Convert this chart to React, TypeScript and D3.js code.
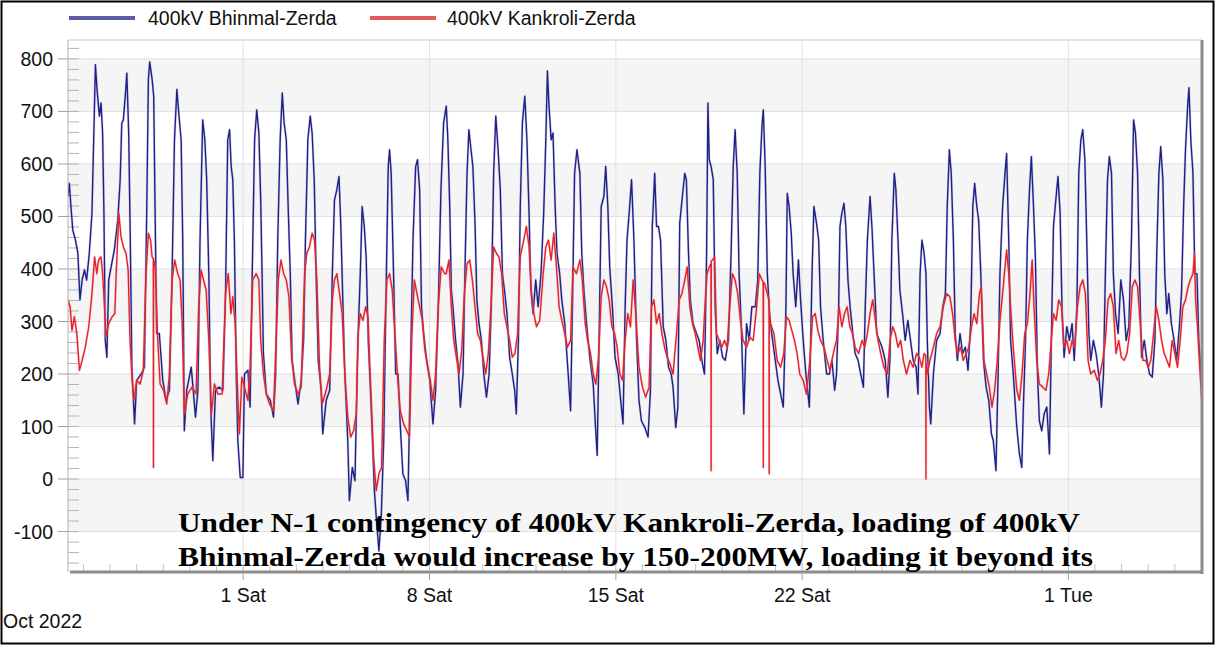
import { useMemo } from "react";
import * as d3 from "d3";

// offsets below are days since 24 Sep 2022 00:00
const START = new Date(2022, 8, 24);
const DAY = 86400000;

const seriesNames = ["400kV Bhinmal-Zerda", "400kV Kankroli-Zerda"];
const seriesColors = ["#20208a", "#e62228"];
const legendColors = ["#5c5ca6", "#e05c5c"];

const yTicks = [-100, 0, 100, 200, 300, 400, 500, 600, 700, 800];
const xTickDates = ["2022-10-01", "2022-10-08", "2022-10-15", "2022-10-22", "2022-11-01"];
const xTickLabels = ["1 Sat", "8 Sat", "15 Sat", "22 Sat", "1 Tue"];
const monthLabel = "Oct 2022";
const noteLines = [
  "Under N-1 contingency of 400kV Kankroli-Zerda, loading of 400kV",
  "Bhinmal-Zerda would increase by 150-200MW, loading it beyond its",
];

const bhinmal: [number, number][] = [
  [0.42,538],[0.47,563],[0.53,519],[0.6,474],[0.7,455],[0.79,430],[0.87,341],[0.95,379],[1.04,398],[1.12,379],[1.22,430],[1.32,506],[1.4,678],[1.45,789],[1.51,742],[1.6,691],[1.66,716],[1.72,659],[1.77,506],[1.82,264],[1.88,232],[1.95,379],[2.04,404],[2.16,436],[2.29,493],[2.38,570],[2.44,678],[2.5,684],[2.58,735],[2.63,773],[2.7,659],[2.76,455],[2.82,213],[2.92,105],[3.0,188],[3.17,200],[3.29,213],[3.38,519],[3.44,761],[3.49,794],[3.58,761],[3.64,729],[3.69,519],[3.75,277],[3.85,277],[3.98,188],[4.11,150],[4.23,169],[4.33,391],[4.42,646],[4.51,742],[4.58,697],[4.67,646],[4.73,455],[4.79,92],[4.88,169],[5.05,213],[5.21,118],[5.3,169],[5.38,455],[5.48,684],[5.56,646],[5.63,570],[5.71,391],[5.78,137],[5.86,35],[5.96,169],[6.09,175],[6.24,169],[6.34,360],[6.42,646],[6.49,665],[6.55,595],[6.61,570],[6.67,455],[6.74,200],[6.8,73],[6.89,3],[6.99,3],[7.05,200],[7.18,207],[7.26,137],[7.34,391],[7.43,646],[7.51,703],[7.59,659],[7.66,531],[7.71,391],[7.76,239],
  [7.87,162],[8.02,150],[8.14,118],[8.22,200],[8.3,455],[8.39,646],[8.47,735],[8.54,678],[8.62,646],[8.69,519],[8.77,391],[8.84,226],[8.97,175],[9.06,143],[9.18,188],[9.27,264],[9.34,455],[9.43,646],[9.52,691],[9.59,659],[9.67,570],[9.74,391],[9.82,226],[9.93,169],[9.99,86],[10.12,150],[10.25,169],[10.35,391],[10.43,531],[10.52,551],[10.6,576],[10.67,481],[10.75,328],[10.82,200],[10.93,73],[10.99,-41],[11.1,22],[11.2,-3],[11.31,264],[11.4,391],[11.47,519],[11.55,481],[11.62,423],[11.7,264],[11.81,137],[11.93,-22],[12.02,-86],[12.1,-137],[12.19,-67],[12.28,73],[12.38,391],[12.45,595],[12.5,627],[12.56,582],[12.65,391],[12.73,200],[12.82,200],[12.9,105],[13.0,10],[13.1,-3],[13.19,-41],[13.28,200],[13.38,455],[13.48,595],[13.55,608],[13.63,551],[13.7,328],[13.78,277],[13.88,232],[14.01,188],[14.13,105],[14.23,169],[14.33,328],[14.43,551],[14.53,678],[14.63,710],[14.69,646],[14.76,519],[14.82,360],[14.88,328],[14.98,264],
  [15.07,220],[15.16,137],[15.26,200],[15.33,391],[15.41,582],[15.48,665],[15.56,627],[15.63,595],[15.71,487],[15.78,341],[15.86,296],[15.95,264],[16.04,200],[16.14,156],[16.24,200],[16.32,328],[16.41,582],[16.49,691],[16.57,633],[16.66,551],[16.74,391],[16.83,353],[16.91,315],[17.01,232],[17.11,200],[17.2,169],[17.26,124],[17.34,264],[17.41,519],[17.49,678],[17.58,729],[17.66,646],[17.74,506],[17.81,360],[17.89,315],[17.99,379],[18.08,328],[18.19,391],[18.29,506],[18.37,646],[18.43,777],[18.49,710],[18.57,646],[18.64,659],[18.72,519],[18.79,430],[18.89,391],[18.97,341],[19.08,296],[19.21,200],[19.3,130],[19.37,328],[19.45,582],[19.54,627],[19.65,582],[19.72,430],[19.8,360],[19.9,296],[20.02,232],[20.15,181],[20.23,105],[20.3,45],[20.37,264],[20.45,519],[20.55,538],[20.62,595],[20.7,519],[20.77,404],[20.87,328],[20.97,232],[21.09,200],[21.17,156],[21.27,105],[21.35,328],[21.42,455],[21.5,506],[21.59,570],[21.68,455],[21.78,264],
  [21.87,150],[21.96,111],[22.09,98],[22.21,80],[22.3,169],[22.37,481],[22.46,582],[22.53,481],[22.6,481],[22.68,455],[22.78,290],[22.88,264],[22.98,213],[23.08,200],[23.15,175],[23.25,98],[23.33,137],[23.4,487],[23.5,538],[23.59,582],[23.65,570],[23.73,430],[23.8,341],[23.9,296],[24.03,277],[24.13,264],[24.23,226],[24.33,200],[24.41,430],[24.46,716],[24.51,608],[24.58,595],[24.66,570],[24.73,328],[24.81,239],[24.91,264],[25.01,232],[25.11,226],[25.23,264],[25.33,430],[25.41,595],[25.48,665],[25.56,582],[25.63,391],[25.71,296],[25.81,124],[25.91,296],[26.01,264],[26.11,328],[26.24,328],[26.33,379],[26.41,582],[26.49,672],[26.54,703],[26.61,595],[26.69,391],[26.79,302],[26.89,264],[26.99,226],[27.09,188],[27.19,162],[27.29,137],[27.39,328],[27.44,544],[27.51,519],[27.59,468],[27.66,391],[27.76,328],[27.86,417],[27.94,341],[28.04,264],[28.14,200],[28.27,137],[28.37,391],[28.44,519],[28.54,487],[28.62,455],[28.69,328],[28.79,264],[28.92,200],
  [29.02,200],[29.12,226],[29.22,169],[29.29,200],[29.37,328],[29.42,481],[29.49,506],[29.57,525],[29.64,481],[29.72,379],[29.8,328],[29.89,283],[29.99,239],[30.1,226],[30.2,200],[30.3,175],[30.37,328],[30.45,455],[30.55,538],[30.62,481],[30.7,391],[30.8,277],[30.9,264],[31.0,251],[31.12,226],[31.22,156],[31.3,232],[31.37,455],[31.46,582],[31.52,551],[31.6,455],[31.67,360],[31.77,315],[31.87,264],[31.97,302],[32.07,264],[32.17,226],[32.28,213],[32.35,162],[32.43,391],[32.5,455],[32.58,430],[32.65,391],[32.7,264],[32.78,137],[32.83,105],[32.93,200],[33.05,264],[33.18,277],[33.28,328],[33.38,353],[33.45,519],[33.53,627],[33.6,582],[33.68,455],[33.75,277],[33.83,226],[33.93,277],[34.03,239],[34.13,251],[34.23,207],[34.33,296],[34.41,519],[34.48,563],[34.56,519],[34.63,493],[34.71,391],[34.81,226],[34.91,175],[35.01,150],[35.11,86],[35.18,73],[35.28,16],[35.36,200],[35.43,391],[35.53,519],[35.62,582],[35.68,620],[35.76,455],[35.83,264],[35.93,200],[36.06,100],
  [36.16,48],[36.25,22],[36.31,137],[36.39,264],[36.46,455],[36.54,551],[36.61,614],[36.69,519],[36.76,423],[36.84,200],[36.91,111],[37.0,92],[37.09,124],[37.19,137],[37.29,48],[37.36,264],[37.44,481],[37.54,538],[37.61,576],[37.69,506],[37.76,328],[37.84,232],[37.94,290],[38.04,264],[38.14,296],[38.22,226],[38.32,328],[38.39,582],[38.47,646],[38.54,665],[38.62,608],[38.69,455],[38.77,277],[38.84,226],[38.94,264],[39.04,239],[39.14,200],[39.24,137],[39.32,200],[39.39,391],[39.47,570],[39.54,614],[39.62,582],[39.69,391],[39.77,315],[39.87,277],[39.97,379],[40.07,341],[40.17,264],[40.27,290],[40.37,455],[40.45,684],[40.52,659],[40.6,582],[40.67,391],[40.75,232],[40.85,264],[40.95,226],[41.05,200],[41.15,194],[41.25,264],[41.32,430],[41.4,582],[41.47,633],[41.55,570],[41.62,391],[41.7,315],[41.77,353],[41.87,296],[41.97,264],[42.07,226],[42.17,290],[42.25,353],[42.33,519],[42.4,627],[42.48,710],[42.53,745],[42.6,646],[42.68,582],[42.75,391],[42.83,391],[42.9,264],[42.98,200],
];

const kankroli: [number, number][] = [
  [0.42,341],[0.5,328],[0.57,283],[0.66,309],[0.75,277],[0.85,207],[0.95,226],[1.07,251],[1.2,290],[1.32,353],[1.42,423],[1.5,391],[1.57,417],[1.66,423],[1.72,391],[1.79,328],[1.85,271],[1.95,296],[2.08,309],[2.18,315],[2.23,391],[2.33,506],[2.41,462],[2.5,442],[2.6,430],[2.68,398],[2.75,264],[2.83,188],[2.89,150],[3.0,188],[3.13,181],[3.25,207],[3.35,391],[3.44,468],[3.52,455],[3.58,423],[3.625,420],[3.63,22],[3.635,417],[3.7,404],[3.78,277],[3.88,181],[4.01,169],[4.13,143],[4.23,200],[4.33,379],[4.43,417],[4.54,391],[4.63,379],[4.71,296],[4.79,124],[4.92,162],[5.08,175],[5.23,162],[5.33,328],[5.42,398],[5.51,379],[5.61,360],[5.71,264],[5.81,124],[5.92,181],[6.05,162],[6.21,162],[6.34,353],[6.44,391],[6.54,315],[6.61,347],[6.7,296],[6.79,169],[6.86,86],[6.95,194],[7.05,175],[7.18,150],[7.26,213],[7.36,379],[7.49,391],
  [7.59,379],[7.66,264],[7.76,200],[7.87,162],[7.99,143],[8.14,130],[8.24,264],[8.32,379],[8.42,417],[8.52,391],[8.62,379],[8.72,347],[8.82,232],[8.93,181],[9.06,162],[9.18,175],[9.31,391],[9.39,430],[9.49,442],[9.59,468],[9.68,455],[9.77,379],[9.87,213],[9.97,143],[10.12,169],[10.25,200],[10.35,341],[10.43,379],[10.52,391],[10.62,353],[10.72,315],[10.82,200],[10.93,118],[11.04,80],[11.15,92],[11.25,124],[11.32,277],[11.4,315],[11.5,302],[11.6,328],[11.69,309],[11.77,200],[11.9,41],[12.0,-22],[12.1,10],[12.2,22],[12.3,264],[12.4,379],[12.5,391],[12.6,360],[12.7,277],[12.82,181],[12.9,130],[13.03,105],[13.15,92],[13.25,80],[13.33,264],[13.43,379],[13.53,353],[13.63,328],[13.73,302],[13.83,245],[13.93,213],[14.03,188],[14.13,150],[14.23,200],[14.33,328],[14.44,404],[14.57,391],
  [14.63,391],[14.73,417],[14.82,328],[14.91,264],[15.01,232],[15.11,200],[15.21,245],[15.31,353],[15.41,410],[15.51,417],[15.61,379],[15.71,328],[15.81,277],[15.91,264],[16.01,232],[16.11,200],[16.21,239],[16.31,328],[16.41,442],[16.51,430],[16.61,423],[16.71,391],[16.81,315],[16.91,290],[17.01,264],[17.11,232],[17.21,239],[17.31,277],[17.41,423],[17.54,455],[17.64,481],[17.74,442],[17.82,360],[17.92,315],[18.02,290],[18.14,302],[18.27,391],[18.37,442],[18.47,455],[18.57,417],[18.67,468],[18.77,404],[18.87,328],[18.97,302],[19.08,277],[19.18,251],[19.3,264],[19.39,404],[19.52,391],[19.65,417],[19.74,379],[19.85,296],[19.94,264],[20.05,239],[20.15,200],[20.25,181],[20.35,232],[20.45,347],[20.55,379],[20.65,366],[20.75,341],[20.85,290],[20.95,277],[21.05,251],[21.15,200],[21.25,188],[21.35,264],[21.45,315],[21.55,290],[21.65,379],[21.75,315],
  [21.87,213],[22.0,175],[22.12,156],[22.25,175],[22.34,328],[22.43,341],[22.53,296],[22.63,315],[22.73,277],[22.83,251],[22.93,232],[23.03,220],[23.15,200],[23.28,277],[23.38,341],[23.48,353],[23.59,379],[23.68,404],[23.78,328],[23.88,296],[23.98,277],[24.08,251],[24.18,226],[24.28,264],[24.36,341],[24.43,391],[24.51,404],[24.575,410],[24.58,16],[24.585,415],[24.63,417],[24.71,423],[24.78,277],[24.88,264],[24.98,251],[25.08,264],[25.18,251],[25.28,328],[25.38,391],[25.48,379],[25.58,353],[25.68,302],[25.78,264],[25.91,251],[26.03,270],[26.16,264],[26.29,328],[26.39,391],[26.49,379],[26.535,375],[26.54,22],[26.545,375],[26.59,372],[26.69,353],[26.755,340],[26.76,10],[26.765,320],[26.81,296],[26.94,277],[27.06,226],[27.19,213],[27.31,239],[27.41,309],[27.51,302],[27.61,283],[27.71,264],[27.81,239],[27.91,200],[28.04,188],[28.16,162],[28.29,226],[28.39,309],[28.49,315],[28.59,283],[28.69,264],[28.82,251],[28.94,226],
  [29.04,207],[29.17,239],[29.29,264],[29.39,328],[29.49,290],[29.59,315],[29.69,328],[29.79,290],[29.89,277],[29.99,251],[30.12,239],[30.25,264],[30.35,251],[30.45,277],[30.55,315],[30.65,341],[30.75,302],[30.85,264],[30.95,239],[31.07,213],[31.2,200],[31.3,264],[31.4,290],[31.5,277],[31.6,251],[31.7,264],[31.8,226],[31.92,200],[32.05,226],[32.17,213],[32.3,239],[32.4,232],[32.5,213],[32.58,239],[32.645,235],[32.65,0],[32.655,220],[32.7,200],[32.8,226],[32.93,251],[33.05,277],[33.18,290],[33.3,328],[33.43,353],[33.55,347],[33.65,315],[33.75,264],[33.85,239],[33.95,251],[34.05,226],[34.16,239],[34.26,251],[34.36,290],[34.46,315],[34.56,296],[34.66,353],[34.73,366],[34.83,226],[34.93,200],[35.03,175],[35.13,137],[35.23,169],[35.33,226],[35.43,302],[35.53,353],[35.62,404],[35.68,436],[35.76,391],[35.83,328],[35.93,251],[36.06,170],
  [36.16,150],[36.26,200],[36.36,277],[36.46,296],[36.56,353],[36.64,417],[36.71,328],[36.81,226],[36.91,181],[37.04,175],[37.16,169],[37.26,200],[37.36,264],[37.44,315],[37.54,302],[37.64,341],[37.74,328],[37.84,251],[37.94,264],[38.04,239],[38.14,264],[38.24,251],[38.34,328],[38.44,366],[38.54,379],[38.64,353],[38.74,226],[38.84,200],[38.97,207],[39.09,188],[39.19,200],[39.29,226],[39.39,264],[39.49,341],[39.59,353],[39.69,328],[39.79,239],[39.89,264],[39.99,232],[40.1,226],[40.2,239],[40.3,277],[40.4,366],[40.5,379],[40.6,366],[40.7,296],[40.8,226],[40.9,226],[41.0,213],[41.1,226],[41.2,277],[41.3,328],[41.4,302],[41.5,264],[41.6,239],[41.7,226],[41.8,213],[41.9,264],[42.0,239],[42.1,213],[42.2,264],[42.3,328],[42.4,341],[42.5,366],[42.58,379],[42.68,391],[42.74,430],[42.78,341],[42.85,290],[42.95,200],[43.01,150],
];

const W = 1218;
const H = 648;
const plot = { left: 68, right: 1202, top: 40, bottom: 572 };
const xRange = [0.42, 43.02];
const yRange = [-177, 836];
const sans = "'Liberation Sans', Arial, sans-serif";
const labelSize = 19.5;

const toDate = (d: number) => new Date(START.getTime() + d * DAY);

export default function App() {
  const x = useMemo(
    () => d3.scaleTime().domain(xRange.map(toDate)).range([plot.left, plot.right]),
    []
  );
  const y = useMemo(() => d3.scaleLinear().domain(yRange).range([plot.bottom, plot.top]), []);

  const line = d3
    .line<[number, number]>()
    .x((d) => x(toDate(d[0])))
    .y((d) => y(d[1]));

  const parse = d3.timeParse("%Y-%m-%d");
  const xTicks = xTickDates.map((s) => parse(s) as Date);
  const days = d3.timeDay.range(toDate(xRange[0]), toDate(xRange[1]));
  const minorY = d3.range(-160, 836, 20);
  const bands = yTicks.filter((v) => v % 200 !== 0);

  return (
    <div style={{ position: "absolute", left: 0, top: 0 }}>
      <svg width={W} height={H} style={{ display: "block", background: "#fff" }}>
        <defs>
          <clipPath id="plotClip">
            <rect x={plot.left} y={plot.top} width={plot.right - plot.left} height={plot.bottom - plot.top} />
          </clipPath>
        </defs>

        {/* alternating bands */}
        {bands.map((v) => (
          <rect
            key={v}
            x={plot.left}
            width={plot.right - plot.left}
            y={y(v + 100)}
            height={y(v) - y(v + 100)}
            fill="#f5f5f5"
          />
        ))}
        {yTicks.map((v) => (
          <line key={v} x1={plot.left} x2={plot.right} y1={y(v)} y2={y(v)} stroke="#e0e0e0" />
        ))}
        {xTicks.map((d, i) => (
          <line key={i} x1={x(d)} x2={x(d)} y1={plot.top} y2={plot.bottom} stroke="#e2e2e2" />
        ))}

        {/* minor ticks */}
        {minorY.map((v) => (
          <line key={v} x1={plot.left} x2={plot.left + 11} y1={y(v)} y2={y(v)} stroke="#b4b4b4" />
        ))}
        {days.map((d, i) => (
          <line key={i} x1={x(d)} x2={x(d)} y1={plot.bottom - 8} y2={plot.bottom} stroke="#c4c4c4" />
        ))}

        <g clipPath="url(#plotClip)" fill="none" strokeLinejoin="round">
          <path d={line(bhinmal) ?? ""} stroke="#9a9ac4" strokeWidth={2.6} strokeOpacity={0.35} />
          <path d={line(bhinmal) ?? ""} stroke={seriesColors[0]} strokeWidth={1.4} />
          <path d={line(kankroli) ?? ""} stroke="#f09a9a" strokeWidth={2.6} strokeOpacity={0.35} />
          <path d={line(kankroli) ?? ""} stroke={seriesColors[1]} strokeWidth={1.4} />
        </g>

        {/* frame */}
        <line x1={plot.left} x2={plot.right} y1={plot.top} y2={plot.top} stroke="#c8c8c8" />
        <line x1={plot.left} x2={plot.left} y1={plot.top} y2={plot.bottom} stroke="#b0b0b0" />
        <line x1={plot.right} x2={plot.right} y1={plot.top} y2={plot.bottom + 2} stroke="#8c8c8c" strokeWidth={3} />
        <line x1={plot.left + 2} x2={plot.right + 1} y1={plot.bottom} y2={plot.bottom} stroke="#8c8c8c" strokeWidth={3} />

        {/* y axis */}
        {yTicks.map((v) => (
          <g key={v}>
            <line x1={plot.left - 10} x2={plot.left} y1={y(v)} y2={y(v)} stroke="#a0a0a0" />
            <text x={plot.left - 15} y={y(v)} dy="0.36em" textAnchor="end" fontFamily={sans} fontSize={labelSize} fill="#111">
              {v}
            </text>
          </g>
        ))}

        {/* x axis */}
        {xTicks.map((d, i) => (
          <g key={i}>
            <line x1={x(d)} x2={x(d)} y1={plot.bottom} y2={plot.bottom + 8} stroke="#a0a0a0" />
            <text x={x(d)} y={602} textAnchor="middle" fontFamily={sans} fontSize={labelSize} fill="#111">
              {xTickLabels[i]}
            </text>
          </g>
        ))}
        <text x={3} y={628} fontFamily={sans} fontSize={labelSize} fill="#111">
          {monthLabel}
        </text>

        {/* legend */}
        {seriesNames.map((name, i) => (
          <g key={name} transform={`translate(${i === 0 ? 69 : 370},0)`}>
            <rect x={0} y={16} width={66} height={4} fill={legendColors[i]} />
            <text x={i === 0 ? 79 : 77} y={25} fontFamily={sans} fontSize={labelSize} fill="#111">
              {name}
            </text>
          </g>
        ))}

        {/* annotation */}
        {noteLines.map((t, i) => (
          <text
            key={i}
            x={178}
            y={532 + i * 34}
            fontFamily="'Liberation Serif', 'DejaVu Serif', serif"
            fontWeight="bold"
            fontSize={28}
            fill="#000"
            textLength={i === 0 ? 902 : 915}
            lengthAdjust="spacingAndGlyphs"
          >
            {t}
          </text>
        ))}

        <rect x={1.5} y={1.5} width={W - 6} height={H - 6} fill="none" stroke="#000" strokeWidth={2} />
      </svg>
    </div>
  );
}
